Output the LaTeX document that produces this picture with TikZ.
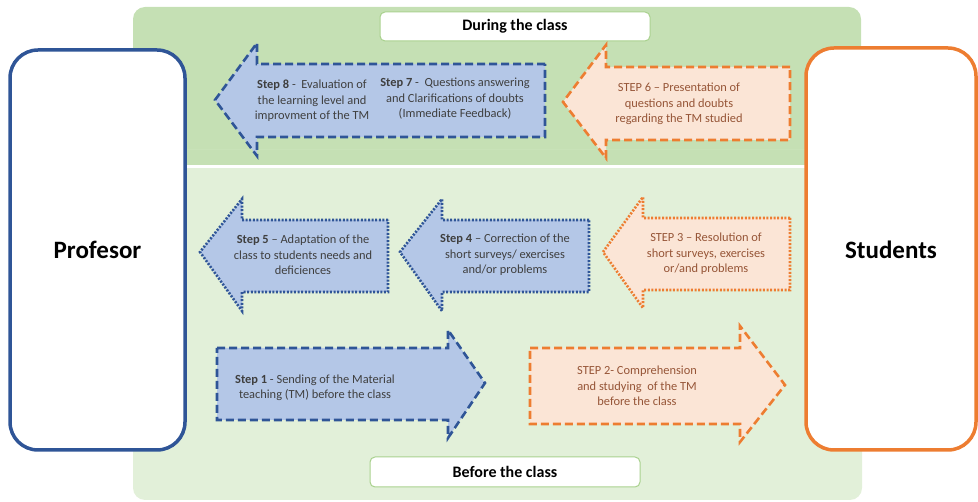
\documentclass[tikz,border=0pt]{standalone}
\usepackage{fontspec}
\setmainfont{Carlito}
\definecolor{darkgreen}{HTML}{C5E0B4}
\definecolor{lightgreen}{HTML}{E2F0D9}
\definecolor{framegreen}{HTML}{A9D18E}
\definecolor{profblue}{HTML}{2F5597}
\definecolor{bluefill}{HTML}{B4C7E7}
\definecolor{stuorange}{HTML}{ED7D31}
\definecolor{orangefill}{HTML}{FBE5D6}
\definecolor{graytext}{HTML}{3F3F3F}
\definecolor{browntext}{RGB}{150,85,55}
\tikzset{
  bluedash/.style={draw=profblue, fill=bluefill, line width=2.6pt, dash pattern=on 8pt off 4pt, line join=miter},
  bluedot/.style={draw=profblue, fill=bluefill, line width=2.6pt, dash pattern=on 2pt off 1.6pt},
  orangedash/.style={draw=stuorange, fill=orangefill, line width=2.6pt, dash pattern=on 8pt off 4pt},
  orangedot/.style={draw=stuorange, fill=orangefill, line width=2.6pt, dash pattern=on 2pt off 1.6pt},
  bluetext/.style={align=center, text=graytext, font=\fontsize{12.4}{15.5}\selectfont, inner sep=0pt},
  orangetext/.style={align=center, text=browntext, font=\fontsize{12.4}{15.5}\selectfont, inner sep=0pt},
  actor/.style={draw, fill=white, line width=3.5pt, rounded corners=28pt},
  phase/.style={draw=framegreen, fill=white, line width=1pt, rounded corners=5pt},
  phasetext/.style={font=\bfseries\fontsize{16}{18}\selectfont},
  actortext/.style={font=\bfseries\fontsize{25}{28}\selectfont},
}
\begin{document}
\begin{tikzpicture}[x=1pt,y=-1pt]
\useasboundingbox (0,0) rectangle (978,502);
% panels
\fill[darkgreen, rounded corners=12pt] (133,7) rectangle (861,180);
\fill[lightgreen, rounded corners=12pt] (133,150) rectangle (862,500);
\fill[lightgreen] (133,168) rectangle (862,185);
\fill[darkgreen] (133,150) rectangle (861,165);
\fill[white] (133,165) rectangle (862,168);
% phase labels
\path[phase] (380,12) rectangle (650,41);
\node[phasetext] (during) at (515,26.5) {During the class};
\path[phase] (370,457) rectangle (640,487);
\node[phasetext] (before) at (505,472) {Before the class};
% actors
\draw[actor, draw=profblue] (10,50) rectangle (185,450);
\node[actortext] (prof) at (97.5,250) {Profesor};
\draw[actor, draw=stuorange] (806,48) rectangle (976,450);
\node[actortext] (stud) at (891,250) {Students};
% Step 8/7 arrow
\path[bluedash] (545,64) -- (257,64) -- (257,43) -- (215,100) -- (257,156) -- (257,137) -- (545,137) -- cycle;
\node[bluetext] (s8) at (312,101) {\textbf{Step 8} -\ \ Evaluation of\\the learning level and\\improvment of the TM};
\node[bluetext] (s7) at (455,99) {\textbf{Step 7} -\ \ Questions answering\\and Clarifications of doubts\\(Immediate Feedback)};
% Step 6 arrow
\path[orangedash] (790,67) -- (606,67) -- (606,45) -- (563,102) -- (606,158) -- (606,140) -- (790,140) -- cycle;
\node[orangetext] (s6) at (679,104) {STEP 6 -- Presentation of\\questions and doubts\\regarding the TM studied};
% Step 5 arrow
\path[bluedot] (388,220) -- (242,220) -- (242,199) -- (200,252) -- (242,311) -- (242,292) -- (388,292) -- cycle;
\node[bluetext] (s5) at (303,255) {\textbf{Step 5} -- Adaptation of the\\class to students needs and\\deficiences};
% Step 4 arrow
\path[bluedot] (589,220) -- (442,220) -- (442,199) -- (400,252) -- (442,311) -- (442,292) -- (589,292) -- cycle;
\node[bluetext] (s4) at (505,255) {\textbf{Step 4} -- Correction of the\\short surveys/ exercises\\and/or problems};
% Step 3 arrow
\path[orangedot] (790,218) -- (643,218) -- (643,197) -- (603,252) -- (643,308) -- (643,290) -- (790,290) -- cycle;
\node[orangetext] (s3) at (706,254) {STEP 3 -- Resolution of\\short surveys, exercises\\or/and problems};
% Step 1 arrow
\path[bluedash] (217,348) -- (448,348) -- (448,330) -- (485,383) -- (448,438) -- (448,420) -- (217,420) -- cycle;
\node[bluetext] (s1) at (315,388) {\textbf{Step 1} - Sending of the Material\\teaching (TM) before the class};
% Step 2 arrow
\path[orangedash] (530,348) -- (740,348) -- (740,326) -- (785,385) -- (740,442) -- (740,424) -- (530,424) -- cycle;
\node[orangetext] (s2) at (637,386) {STEP 2- Comprehension\\and studying\ \ of the TM\\before the class};
\end{tikzpicture}
\end{document}
